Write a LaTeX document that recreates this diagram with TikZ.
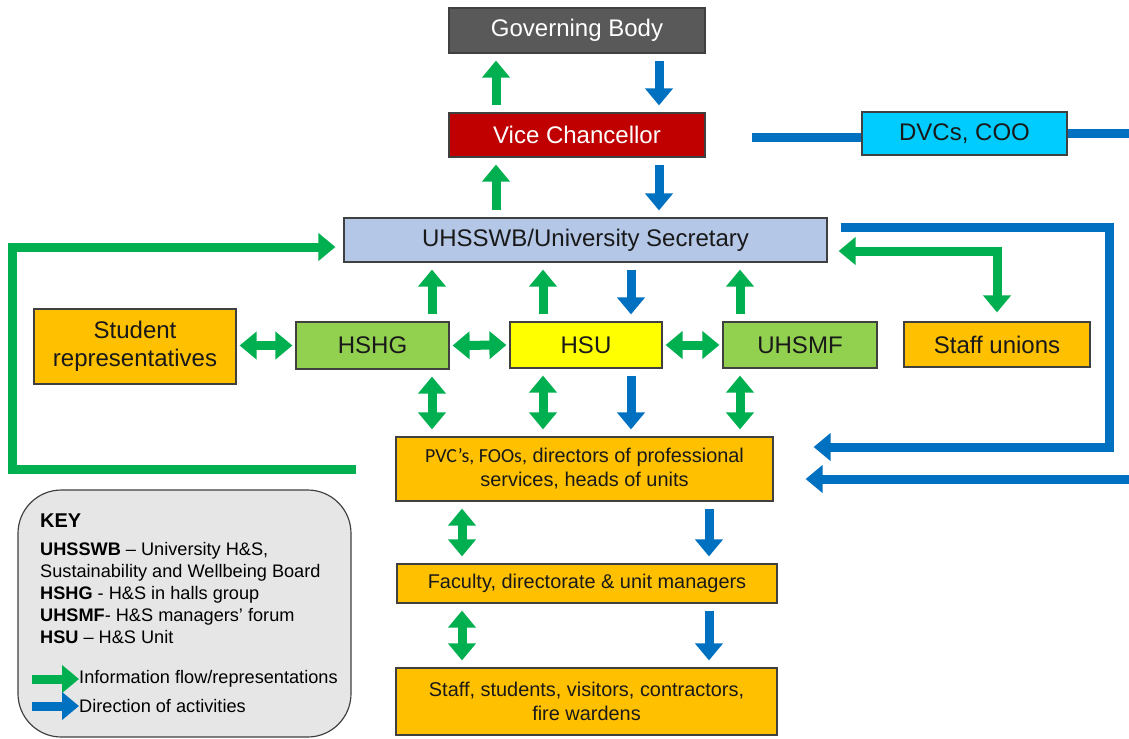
\documentclass[tikz,border=0pt]{standalone}
\usepackage{fontspec}
\setmainfont{Liberation Sans}
\newfontfamily\calfont{Carlito}
\usetikzlibrary{arrows.meta}
\usetikzlibrary{calc}

\definecolor{flowgreen}{HTML}{00B050}
\definecolor{actblue}{HTML}{0070C0}
\definecolor{gbgray}{HTML}{595959}
\definecolor{vcred}{HTML}{C00000}
\definecolor{dvccyan}{HTML}{00CCFF}
\definecolor{secblue}{HTML}{B4C7E7}
\definecolor{unitorange}{HTML}{FFC000}
\definecolor{hsgreen}{HTML}{92D050}
\definecolor{hsuyellow}{HTML}{FFFF00}
\definecolor{keygray}{HTML}{E7E6E6}

\tikzset{fat/.tip={Triangle[width=8.1mm,length=5.1mm]}}
\tikzset{box/.style={draw=black!75, line width=1pt, inner sep=0pt, align=center, text=black!90}}
\tikzset{big/.style={font=\fontsize{20.5}{24}\selectfont}}
\tikzset{mid/.style={font=\fontsize{17}{20.5}\selectfont}}
\tikzset{keyfont/.style={font=\fontsize{15.5}{18.7}\selectfont}}
\tikzset{flow/.style={draw=flowgreen, line width=2.7mm}}
\tikzset{act/.style={draw=actblue, line width=2.7mm}}
\tikzset{gap/.style={shorten <=#1, shorten >=#1}, gap/.default=2.1mm}

\begin{document}
\begin{tikzpicture}[x=0.3mm, y=-0.3mm]
\useasboundingbox (0,0) rectangle (1129,738);

% boxes
\node[box, big, fill=gbgray, text=white, minimum width=76.8mm, minimum height=13.5mm] (gb) at (577,30.5) {Governing Body};
\node[box, big, fill=vcred, text=white, minimum width=76.8mm, minimum height=13.2mm] (vc) at (577,135) {Vice Chancellor};
\node[box, big, fill=dvccyan, minimum width=61.5mm, minimum height=12.9mm] (dvc) at (964.5,133.5) {DVCs, COO};
\node[box, big, fill=secblue, minimum width=144.9mm, minimum height=13.2mm] (secr) at (585.5,240) {UHSSWB/University Secretary};

\node[box, font=\fontsize{20.5}{23.8}\selectfont, fill=unitorange, minimum width=60.6mm, minimum height=22.5mm] (stud) at (135,346.5) {Student\\representatives};
\node[box, big, fill=hsgreen, minimum width=45.9mm, minimum height=14.1mm] (hshg) at (372.5,345.5) {HSHG};
\node[box, big, fill=hsuyellow, minimum width=45.6mm, minimum height=13.8mm] (hsu) at (586,345) {HSU};
\node[box, big, fill=hsgreen, minimum width=46.2mm, minimum height=13.8mm] (uhsmf) at (800,345) {UHSMF};
\node[box, big, fill=unitorange, minimum width=55.8mm, minimum height=13.5mm] (union) at (997,344.5) {Staff unions};

\node[box, mid, fill=unitorange, minimum width=113.1mm, minimum height=19.2mm] (pvc) at (584.5,469) {{\calfont PVC’s, FOOs,} directors of professional\\services, heads of units};
\node[box, mid, fill=unitorange, minimum width=114mm, minimum height=11.7mm] (fac) at (587,583.5) {Faculty, directorate \& unit managers};
\node[box, mid, fill=unitorange, minimum width=114.3mm, minimum height=20.1mm] (staff) at (586.5,701.5) {Staff, students, visitors, contractors,\\fire wardens};

% columns for the arrows
\coordinate (c1) at (496,0);
\coordinate (c2) at (659,0);
\coordinate (cH) at (432,0);
\coordinate (cU) at (543,0);
\coordinate (cB) at (631,0);
\coordinate (cM) at (740,0);
\coordinate (cL) at (462,0);
\coordinate (cR) at (709,0);
\coordinate (lloop) at (12,350);
\coordinate (rloop) at (1109,350);
\coordinate (redge) at (1129,0);

\draw[flow, gap, -fat] (vc.north -| c1) -- (gb.south -| c1);
\draw[act, gap, -fat] (gb.south -| c2) -- (vc.north -| c2);
\draw[flow, gap, -fat] (secr.north -| c1) -- (vc.south -| c1);
\draw[act, gap, -fat] (vc.south -| c2) -- (secr.north -| c2);

\draw[flow, gap, -fat] (hshg.north -| cH) -- (secr.south -| cH);
\draw[flow, gap, -fat] (hsu.north -| cU) -- (secr.south -| cU);
\draw[act, gap, -fat] (secr.south -| cB) -- (hsu.north -| cB);
\draw[flow, gap, -fat] (uhsmf.north -| cM) -- (secr.south -| cM);

\draw[flow, gap=0.9mm, fat-fat] (stud.east |- hshg.west) -- (hshg.west);
\draw[flow, gap=0.9mm, fat-fat] (hshg.east) -- (hsu.west);
\draw[flow, gap=0.9mm, fat-fat] (hsu.east) -- (uhsmf.west);

\draw[flow, gap, fat-fat] (hshg.south -| cH) -- (pvc.north -| cH);
\draw[flow, gap, fat-fat] (hsu.south -| cU) -- (pvc.north -| cU);
\draw[act, gap, -fat] (hsu.south -| cB) -- (pvc.north -| cB);
\draw[flow, gap, fat-fat] (uhsmf.south -| cM) -- (pvc.north -| cM);

\draw[flow, gap, fat-fat] (pvc.south -| cL) -- (fac.north -| cL);
\draw[act, gap, -fat] (pvc.south -| cR) -- (fac.north -| cR);
\draw[flow, gap, fat-fat] (fac.south -| cL) -- (staff.north -| cL);
\draw[act, gap, -fat] (fac.south -| cR) -- (staff.north -| cR);

% loops
\draw[flow, shorten >=2.4mm, -fat] ($(pvc.west)+(-39,0)$) -| (lloop) |- ($(secr.west)+(0,7)$);
\draw[flow, shorten <=3.3mm, shorten >=2.7mm, fat-fat] ($(secr.east)+(0,11)$) -| (union.north);
\draw[act, shorten >=12mm, -fat] ($(secr.east)+(13,-13)$) -| (rloop) |- ($(pvc.east)+(0,-22)$);
\draw[act, shorten >=9.6mm, -fat] (redge |- pvc.east) ++(0,10) -- ($(pvc.east)+(0,10)$);
\draw[act] ($(dvc.west)+(-109,3.5)$) -- ($(dvc.west)+(0,3.5)$);
\draw[act] (dvc.east) -- (redge |- dvc.east);

% key
\node[draw=black!75, line width=1pt, fill=keygray, rounded corners=13mm, minimum width=99.9mm, minimum height=74.1mm] (key) at (184.5,613.5) {};
\node[keyfont, anchor=north west, align=left, inner sep=0pt] (ktext) at (40,514) {{\fontsize{17}{20}\selectfont\bfseries KEY}\\[5pt]
\textbf{UHSSWB} – University H\&S,\\
Sustainability and Wellbeing Board\\
\textbf{HSHG} - H\&S in halls group\\
\textbf{UHSMF}- H\&S managers’ forum\\
\textbf{HSU} – H\&S Unit};
\node[keyfont, anchor=west, inner sep=0pt] (kinfo) at (79,679) {Information flow/representations};
\node[keyfont, anchor=west, inner sep=0pt] (kact) at (79,706) {Direction of activities};
\draw[flow, -fat] ($(kinfo.west)+(-47,0)$) -- (kinfo.west);
\draw[act, -fat] ($(kact.west)+(-47,0)$) -- (kact.west);

\end{tikzpicture}
\end{document}
